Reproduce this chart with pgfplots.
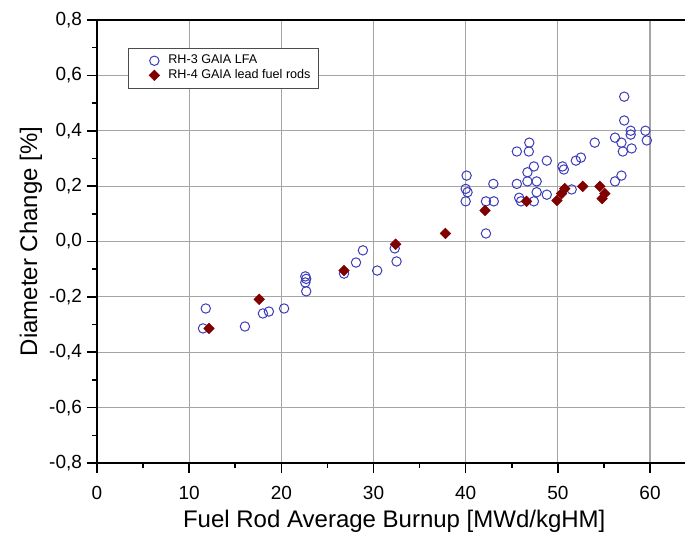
\documentclass[border=0pt]{standalone}
\usepackage{pgfplots}
\pgfplotsset{compat=1.18}
\usepackage{fontspec}
\setmainfont{Liberation Sans}
\definecolor{circblue}{RGB}{60,60,185}
\definecolor{diared}{RGB}{128,0,0}
\definecolor{gridgray}{RGB}{165,165,165}
\begin{document}
\begin{tikzpicture}
\begin{axis}[
  scale only axis,
  width=297.25bp, height=221.5bp,
  xmin=0, xmax=64.5, ymin=-0.8, ymax=0.8,
  xtick={0,10,20,30,40,50,60},
  minor xtick={5,15,25,35,45,55},
  ytick={-0.8,-0.6,-0.4,-0.2,0,0.2,0.4,0.6,0.8},
  minor ytick={-0.7,-0.5,-0.3,-0.1,0.1,0.3,0.5,0.7},
  yticklabels={{-0,8},{-0,6},{-0,4},{-0,2},{0,0},{0,2},{0,4},{0,6},{0,8}},
  /pgf/number format/assume math mode=true,
  tick align=outside, xtick pos=bottom, ytick pos=left,
  major tick length=5bp, minor tick length=2.5bp,
  tick style={black, line width=0.8bp},
  axis line style={black, line width=1bp},
  xmajorgrids, ymajorgrids,
  major grid style={gridgray, line width=0.6bp},
  ticklabel style={font=\fontsize{9.5bp}{11bp}\selectfont},
  xticklabel style={yshift=-3bp},
  yticklabel style={xshift=1bp},
  xlabel={Fuel Rod Average Burnup [MWd/kgHM]},
  ylabel={Diameter Change [\%]},
  label style={font=\fontsize{12bp}{14bp}\selectfont},
  xlabel style={at={(axis description cs:0.5,0)}, anchor=center, yshift=-29bp},
  ylabel style={at={(axis description cs:0,0.5)}, anchor=center, yshift=33bp},
  legend style={at={(axis cs:3.36,0.70)}, anchor=north west,
    draw=black!70, line width=0.4bp, fill=white,
    font=\fontsize{6.3bp}{7bp}\selectfont,
    inner xsep=3bp, inner ysep=3bp, row sep=0.5bp,
    nodes={inner xsep=1bp, inner ysep=0.4bp}},
  legend cell align=left,
  legend image code/.code={\path[draw=none,fill=none] (-10bp,0bp) -- (6bp,0bp); \draw[#1] plot coordinates {(0bp,0bp)};},
]
\addplot[only marks, mark=o, mark size=2.35bp, mark options={draw=circblue, line width=0.5bp}] coordinates {
(11.8,-0.242) (11.5,-0.314) (16.05,-0.307) (18.0,-0.26) (18.65,-0.253) (20.3,-0.242)
(22.6,-0.126) (22.7,-0.135) (22.6,-0.148) (22.7,-0.18) (26.8,-0.116) (28.1,-0.076)
(28.85,-0.032) (30.4,-0.105) (32.3,-0.025) (32.5,-0.072)
(40.1,0.238) (40.0,0.19) (40.2,0.178) (40.0,0.145) (42.2,0.145) (43.0,0.208)
(43.05,0.145) (42.2,0.029) (45.55,0.325) (46.9,0.357) (46.85,0.325) (48.8,0.292)
(47.4,0.271) (46.7,0.25) (45.55,0.208) (46.7,0.217) (47.7,0.217) (47.7,0.178)
(45.8,0.158) (46.0,0.145) (47.4,0.145) (48.8,0.169) (50.5,0.271) (50.65,0.26)
(51.95,0.292) (52.5,0.303) (54.0,0.357) (57.2,0.523) (57.2,0.437) (57.9,0.40)
(57.9,0.386) (59.5,0.40) (59.65,0.365) (56.2,0.375) (56.9,0.357) (57.05,0.325)
(58.0,0.336) (56.9,0.238) (56.2,0.217) (51.5,0.188)
};
\addlegendentry{RH-3 GAIA LFA}
\addplot[only marks, mark=square*, mark size=1.85bp, mark options={fill=diared, draw=diared, rotate=45, line width=0.3bp}] coordinates {
(12.15,-0.314) (17.6,-0.209) (26.8,-0.105) (32.4,-0.01) (37.8,0.029) (42.1,0.112)
(46.6,0.145) (49.9,0.148) (50.4,0.173) (50.75,0.191) (52.7,0.199) (54.55,0.199)
(55.1,0.173) (54.8,0.155)
};
\addlegendentry{RH-4 GAIA lead fuel rods}
\end{axis}
\pgfresetboundingbox
\path (-48.5bp,-35bp) rectangle (294bp,231.5bp);
\end{tikzpicture}
\end{document}
